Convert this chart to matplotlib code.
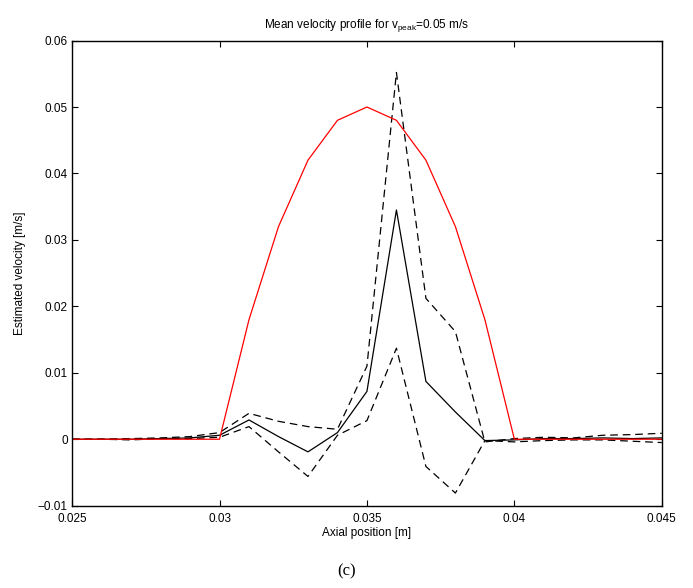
import numpy as np
import matplotlib
matplotlib.use("Agg")
import matplotlib.pyplot as plt

plt.rcParams['font.family'] = ['Liberation Sans', 'DejaVu Sans']
plt.rcParams['lines.scale_dashes'] = False

# axial positions [m]
pos = [0.025, 0.026, 0.027, 0.028, 0.029, 0.030, 0.031, 0.032, 0.033, 0.034, 0.035,
       0.036, 0.037, 0.038, 0.039, 0.040, 0.041, 0.042, 0.043, 0.044, 0.045]

# true profile
v_true = [0, 0, 0, 0, 0, 0, 0.018, 0.032, 0.042, 0.048, 0.050,
          0.048, 0.042, 0.032, 0.018, 0, 0, 0, 0, 0, 0]

# mean estimate
v_mean = [0, 0, 0, 0.0001, 0.0002, 0.0006, 0.0029, 0.0004, -0.0019, 0.0010, 0.0072,
          0.0345, 0.0087, 0.0041, -0.0002, -0.0001, 0.0001, 0.0001, 0.0002, 0.0001, 0.0002]

# mean +/- std
v_upper = [0, 0, 0.0001, 0.0002, 0.0004, 0.0010, 0.0039, 0.0027, 0.0019, 0.0015, 0.0110,
           0.0552, 0.0212, 0.0162, -0.0004, 0.0001, 0.0003, 0.0002, 0.0006, 0.0007, 0.0009]
v_lower = [0, 0, -0.0001, 0.0001, 0.0001, 0.0003, 0.0019, -0.0019, -0.0056, 0.0006, 0.0028,
           0.0137, -0.0041, -0.0081, -0.0002, -0.0004, -0.0002, -0.0001, -0.0001, -0.0003, -0.0005]

xticks = [0.025, 0.03, 0.035, 0.04, 0.045]
xticklabels = ['0.025', '0.03', '0.035', '0.04', '0.045']
yticks = [-0.01, 0, 0.01, 0.02, 0.03, 0.04, 0.05, 0.06]
yticklabels = ['\u22120.01', '0', '0.01', '0.02', '0.03', '0.04', '0.05', '0.06']

fig = plt.figure(figsize=(6.93, 5.88), dpi=100)
ax = fig.add_axes([0.104, 0.140, 0.851, 0.791])

ax.plot(pos, v_mean, 'k-', lw=0.9)
ax.plot(pos, v_upper, 'k', lw=0.9, dashes=[5.5, 3.5])
ax.plot(pos, v_lower, 'k', lw=0.9, dashes=[5.5, 3.5])
ax.plot(pos, v_true, 'r-', lw=0.9)

ax.set_xlim(0.025, 0.045)
ax.set_ylim(-0.01, 0.06)
ax.set_xticks(xticks)
ax.set_xticklabels(xticklabels)
ax.set_yticks(yticks)
ax.set_yticklabels(yticklabels)
ax.tick_params(direction='in', top=True, right=True, length=4, width=0.8,
               labelsize=8.5, pad=3)
ax.tick_params(axis='x', pad=5)
for s in ax.spines.values():
    s.set_linewidth(1.0)

ax.set_xlabel('Axial position [m]', fontsize=8.5, labelpad=2)
ax.set_ylabel('Estimated velocity [m/s]', fontsize=8.5)
ax.yaxis.set_label_coords(-0.078, 0.5)
ax.set_title(r'Mean velocity profile for v$_{\mathregular{peak}}$=0.05 m/s',
             fontsize=8.5, pad=9)

fig.text(0.5, 0.015, '(c)', ha='center', va='bottom', fontsize=12,
         family='Liberation Serif')

plt.savefig('out.png', dpi=100)
